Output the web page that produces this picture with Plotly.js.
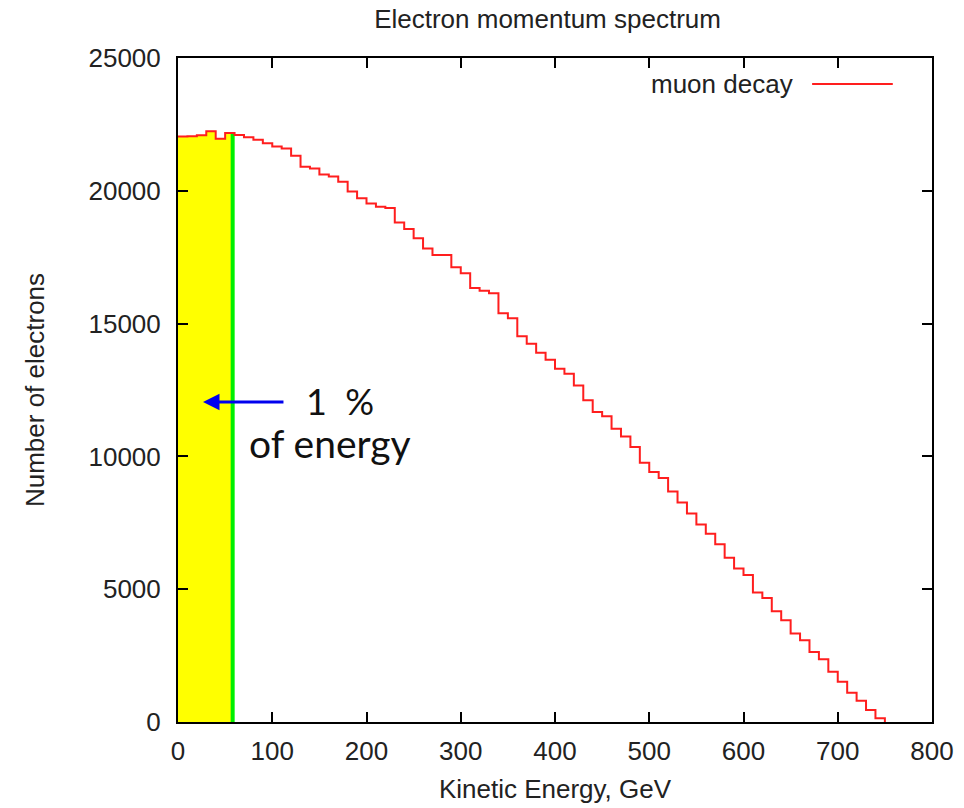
<!DOCTYPE html>
<html>
<head>
<meta charset="utf-8">
<script src="https://cdn.plot.ly/plotly-3.0.1.min.js"></script>
<style>
  html, body { margin: 0; padding: 0; background: #fff; }
  #chart { width: 964px; height: 808px; }
</style>
</head>
<body>
<div id="chart"></div>
<script>
// ---- data ----
const binWidth = 10; // GeV
const binEdges = [0,10,20,30,40,50,60,70,80,90,100,110,120,130,140,150,160,170,180,190,
  200,210,220,230,240,250,260,270,280,290,300,310,320,330,340,350,360,370,380,390,
  400,410,420,430,440,450,460,470,480,490,500,510,520,530,540,550,560,570,580,590,
  600,610,620,630,640,650,660,670,680,690,700,710,720,730,740];
const counts = [22040,22050,22090,22240,21960,22180,22100,22020,21920,21790,
  21670,21590,21320,20910,20840,20610,20540,20340,19970,19720,
  19520,19400,19350,18810,18560,18210,17830,17580,17580,17120,
  16900,16340,16240,16140,15390,15200,14520,14240,13900,13640,
  13300,13110,12670,12110,11670,11510,11040,10750,10350,9760,
  9410,9190,8680,8260,7850,7440,7090,6690,6180,5780,
  5530,4880,4670,4170,3830,3330,3080,2640,2360,1890,
  1520,1100,800,450,140];
const cutEnergy = [58];          // green marker, GeV
const arrowHead = [26.5, 12050]; // blue arrow head (GeV, electrons)
const arrowTail = [113.5, 12050];
const seriesName = ["muon decay"];
const xTicks = [0,100,200,300,400,500,600,700,800];
const yTicks = [0,5000,10000,15000,20000,25000];

// ---- build step traces ----
const stepX = binEdges.concat([binEdges[binEdges.length-1] + binWidth]);
const stepY = counts.concat([0]);

const cut = cutEnergy[0];
const fillX = [], fillY = [];
let lastVal = counts[0];
for (let i = 0; i < binEdges.length; i++) {
  if (binEdges[i] < cut) { fillX.push(binEdges[i]); fillY.push(counts[i]); lastVal = counts[i]; }
}
fillX.push(cut); fillY.push(lastVal);

const traces = [
  { x: fillX, y: fillY, type: 'scatter', mode: 'lines', line: {shape: 'hv', width: 0, color: '#ffff00'},
    fill: 'tozeroy', fillcolor: '#ffff00', showlegend: false, hoverinfo: 'skip' },
  { x: [cut, cut], y: [0, lastVal], type: 'scatter', mode: 'lines',
    line: {color: '#00f000', width: 4}, showlegend: false, hoverinfo: 'skip' },
  { x: stepX, y: stepY, type: 'scatter', mode: 'lines', name: seriesName[0],
    line: {shape: 'hv', color: 'rgb(255,30,30)', width: 2}, showlegend: false }
];

const fontFam = '"Liberation Sans", Arial, Helvetica, sans-serif';
const fs = 26;
const layout = {
  width: 964, height: 808,
  margin: {l: 178, r: 32, t: 58, b: 86},
  paper_bgcolor: '#fff', plot_bgcolor: '#fff',
  font: {family: fontFam, size: fs, color: '#222'},
  title: {text: 'Electron momentum spectrum', font: {family: fontFam, size: fs, color: '#222'},
    x: 0.568, xanchor: 'center', y: 0.977, yanchor: 'middle'},
  xaxis: {
    range: [0, 800], tickvals: xTicks, ticktext: xTicks.map(String),
    ticks: 'inside', ticklen: 10, tickwidth: 2, tickcolor: '#000',
    showline: true, linecolor: '#000', linewidth: 2, mirror: 'ticks',
    showgrid: false, zeroline: false, ticklabelstandoff: 5,
    title: {text: 'Kinetic Energy, GeV', font: {family: fontFam, size: fs, color: '#222'}, standoff: 15}
  },
  yaxis: {
    range: [0, 25000], tickvals: yTicks, ticktext: yTicks.map(String),
    ticks: 'inside', ticklen: 10, tickwidth: 2, tickcolor: '#000',
    showline: true, linecolor: '#000', linewidth: 2, mirror: 'ticks',
    showgrid: false, zeroline: false, ticklabelstandoff: 10,
    title: {text: 'Number of electrons', font: {family: fontFam, size: fs, color: '#222'}, standoff: 36}
  },
  showlegend: false,
  shapes: [
    {type: 'line', xref: 'paper', yref: 'paper', x0: 0.841, x1: 0.948, y0: 0.961, y1: 0.961,
      line: {color: 'rgb(255,30,30)', width: 2}}
  ],
  annotations: [
    {xref: 'paper', yref: 'paper', x: 0.818, y: 0.961, xanchor: 'right', yanchor: 'middle',
      text: seriesName[0], showarrow: false, font: {family: fontFam, size: fs, color: '#222'}},
    {x: arrowHead[0], y: arrowHead[1], ax: arrowTail[0], ay: arrowTail[1], axref: 'x', ayref: 'y',
      xref: 'x', yref: 'y', text: '', showarrow: true, arrowhead: 2, arrowsize: 1.1, arrowwidth: 3,
      arrowcolor: '#0000ee'},
    {x: 134, y: 12080, xref: 'x', yref: 'y', xanchor: 'left', yanchor: 'middle',
      text: '1\u00a0\u00a0%', showarrow: false, font: {family: 'Lato, sans-serif', size: 36, color: '#111'}},
    {x: 73, y: 10500, xref: 'x', yref: 'y', xanchor: 'left', yanchor: 'middle',
      text: 'of energy', showarrow: false, font: {family: 'Lato, sans-serif', size: 39, color: '#111'}}
  ]
};

Plotly.newPlot('chart', traces, layout, {staticPlot: true, displayModeBar: false});
</script>
</body>
</html>
